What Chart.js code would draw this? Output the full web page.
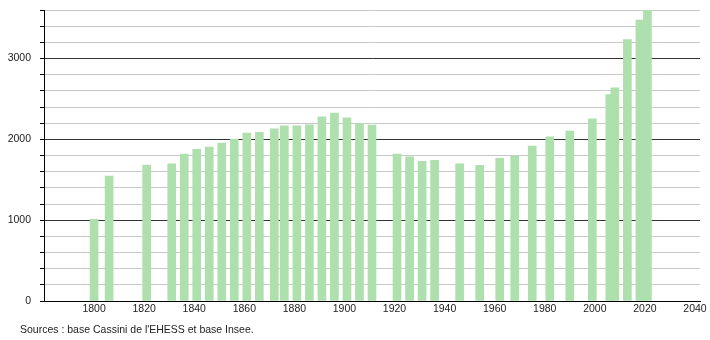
<!DOCTYPE html>
<html>
<head>
<meta charset="utf-8">
<style>
  html, body { margin: 0; padding: 0; background: #fff; }
  #wrap { position: relative; width: 710px; height: 340px; }
  #source {
    position: absolute; left: 20px; top: 322px;
    font: 10.5px 'Liberation Sans', Arial, sans-serif; color: #222; line-height: 14px;
  }
</style>
<script src="https://cdn.jsdelivr.net/npm/chart.js@4/dist/chart.umd.min.js"></script>
</head>
<body>
<div id="wrap">
  <canvas id="graficoPopulacao" width="710" height="340"></canvas>
  <div id="source"></div>
</div>
<script>
// annees de recensement et population
const annees = [1800, 1806, 1821, 1831, 1836, 1841, 1846, 1851, 1856, 1861, 1866, 1872, 1876, 1881, 1886,
  1891, 1896, 1901, 1906, 1911, 1921, 1926, 1931, 1936, 1946, 1954, 1962, 1968, 1975, 1982, 1990, 1999,
  2006, 2008, 2013, 2018, 2021];
const population = [1010, 1545, 1680, 1697, 1818, 1876, 1905, 1955, 2001, 2076, 2088, 2130, 2167, 2167, 2179,
  2279, 2325, 2266, 2196, 2175, 1818, 1785, 1727, 1739, 1697, 1677, 1764, 1793, 1918, 2030, 2101, 2254,
  2553, 2636, 3234, 3474, 3600];
const ticksX = [1800, 1820, 1840, 1860, 1880, 1900, 1920, 1940, 1960, 1980, 2000, 2020, 2040];
const ticksYLabels = [0, 1000, 2000, 3000];
const source = "Sources : base Cassini de l'EHESS et base Insee.";

document.getElementById('source').textContent = source;

const fonte = { family: "'Liberation Sans', Arial, sans-serif", size: 10.5 };

const ctx = document.getElementById('graficoPopulacao').getContext('2d');

new Chart(ctx, {
  type: 'bar',
  data: {
    datasets: [{
      data: annees.map((a, i) => ({ x: a, y: population[i] })),
      backgroundColor: '#ade0ad',
      borderWidth: 0,
      barThickness: 8,
    }]
  },
  options: {
    responsive: false,
    animation: false,
    layout: { padding: { top: 10, right: 10, bottom: 17, left: 0 } },
    plugins: {
      legend: { display: false },
      tooltip: { enabled: false }
    },
    scales: {
      x: {
        type: 'linear',
        offset: false,
        min: 1780,
        max: 2042,
        afterBuildTicks: scale => { scale.ticks = ticksX.map(v => ({ value: v })); },
        afterFit: scale => { scale.height = 22; },
        grid: { display: false, drawTicks: false },
        border: { color: '#000', width: 1 },
        ticks: {
          color: '#222',
          font: fonte,
          padding: 2,
          maxRotation: 0,
          autoSkip: false,
          callback: v => String(v)
        }
      },
      y: {
        min: 0,
        max: 3600,
        afterFit: scale => { scale.width = 44; scale.paddingTop = 0; scale.paddingBottom = 0; },
        grid: {
          color: c => (c.tick && c.tick.value % 1000 === 0) ? '#333' : '#c8c8c8',
          tickColor: '#000',
          tickLength: 4,
          lineWidth: 1
        },
        border: { color: '#000', width: 1 },
        ticks: {
          stepSize: 200,
          color: '#222',
          font: fonte,
          padding: 9,
          autoSkip: false,
          callback: v => ticksYLabels.includes(v) ? String(v) : ''
        }
      }
    }
  }
});
</script>
</body>
</html>
